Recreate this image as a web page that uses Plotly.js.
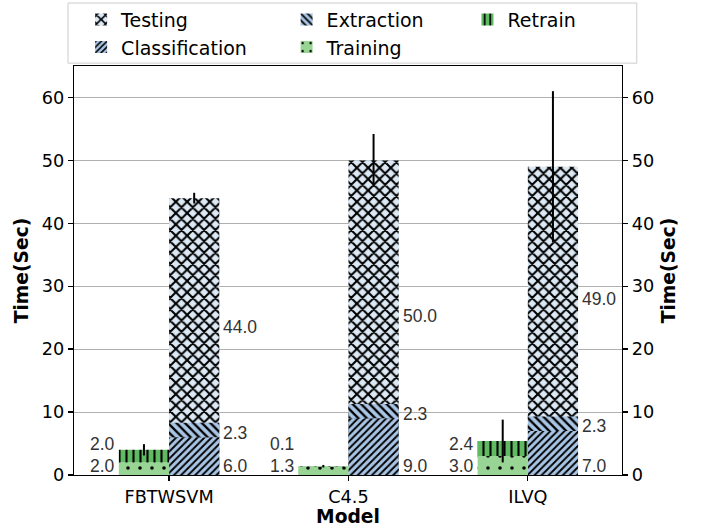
<!DOCTYPE html>
<html>
<head>
<meta charset="utf-8">
<script src="https://cdn.plot.ly/plotly-3.0.1.min.js"></script>
<style>html,body{margin:0;padding:0;background:#fff;}#chart{width:702px;height:527px;}</style>
</head>
<body>
<div id="chart"></div>
<script>
// ---- data ----
const models = ['FBTWSVM', 'C4.5', 'ILVQ'];
const training = [2.0, 1.3, 3.0];
const retrain = [2.0, 0.1, 2.4];
const retrainErr = [0.9, 0.2, 3.4];
const classification = [6.0, 9.0, 7.0];
const extraction = [2.3, 2.3, 2.3];
const testing = [44.0, 50.0, 49.0];
const testingErr = [0.85, 4.2, 12.0];
const yTicks = [0, 10, 20, 30, 40, 50, 60];

// ---- layout constants ----
const W = 0.28;
const FONT = 'DejaVu Sans, sans-serif';
const LBL_FONT = {family: 'Liberation Sans, Arial, sans-serif', size: 17.5, color: '#333333'};
const testLabelShift = [1.6, 0.3, 3.4];

const extBase = classification.slice();
const retBase = training.slice();

function pat(shape, bg, size, sol) {
  return {shape: shape, bgcolor: bg, fgcolor: '#000000', fgopacity: 1, size: size, solidity: sol, fillmode: 'overlay'};
}
const errStyle = {type: 'data', visible: true, color: '#000000', thickness: 2, width: 0};

const traces = [
  {type: 'bar', name: 'Testing', x: models, y: testing, base: [0,0,0], offset: 0, width: W, opacity: 1,
   marker: {color: '#dce9f5', opacity: 1, line: {width: 0}, pattern: pat('x', '#dce9f5', 8, 0.45)},
   error_y: Object.assign({array: testingErr}, errStyle), legend: 'legend', legendrank: 1},
  {type: 'bar', name: 'Classification', x: models, y: classification, base: [0,0,0], offset: 0, width: W, opacity: 1,
   marker: {color: '#a9c5e5', opacity: 1, line: {width: 0}, pattern: pat('/', '#a9c5e5', 5, 0.38)},
   legend: 'legend', legendrank: 2},
  {type: 'bar', name: 'Extraction', x: models, y: extraction, base: extBase, offset: 0, width: W, opacity: 1,
   marker: {color: '#a9c5e5', opacity: 1, line: {width: 0}, pattern: pat('\\', '#a9c5e5', 6, 0.38)},
   legend: 'legend2', legendrank: 1},
  {type: 'bar', name: 'Training', x: models, y: training, base: [0,0,0], offset: -W, width: W, opacity: 1,
   marker: {color: '#98d594', opacity: 1, line: {width: 0}, pattern: pat('.', '#98d594', 12, 0.07)},
   legend: 'legend2', legendrank: 2},
  {type: 'bar', name: 'Retrain', x: models, y: retrain, base: retBase, offset: -W, width: W, opacity: 1,
   marker: {color: '#5fba62', opacity: 1, line: {width: 0}, pattern: pat('|', '#5fba62', 7, 0.3)},
   error_y: Object.assign({array: retrainErr}, errStyle), legend: 'legend3', legendrank: 1},
  {type: 'scatter', x: [], y: [], yaxis: 'y2', showlegend: false, hoverinfo: 'skip'}
];

const annotations = [];
function lbl(x, y, v, side) {
  annotations.push({x: x, y: y, xref: 'x', yref: 'y', text: v.toFixed(1), showarrow: false,
    xanchor: side, yanchor: 'middle', xshift: side === 'right' ? -2 : 2, font: LBL_FONT});
}
models.forEach(function (m, i) {
  lbl(i - W, 1.5, training[i], 'right');
  lbl(i - W, 4.9, retrain[i], 'right');
  lbl(i + W, 1.5, classification[i], 'left');
  lbl(i + W, classification[i] + extraction[i] / 2 - 0.4, extraction[i], 'left');
  lbl(i + W, testing[i] / 2 + testLabelShift[i], testing[i], 'left');
});

const legBase = {bgcolor: 'rgba(0,0,0,0)', borderwidth: 0, font: {family: FONT, size: 19, color: '#000'},
  yanchor: 'top', xanchor: 'left', y: 1.16, orientation: 'v', tracegroupgap: 0};

const axisFont = {family: FONT, size: 17.7, color: '#000'};
const titleFont = {family: FONT, size: 18.7, color: '#000'};
const layout = {
  width: 702, height: 527,
  margin: {l: 74, r: 80, t: 66, b: 52, autoexpand: false},
  paper_bgcolor: '#ffffff', plot_bgcolor: '#ffffff',
  font: {family: FONT, size: 16, color: '#000'},
  barmode: 'overlay',
  showlegend: true,
  legend: Object.assign({}, legBase, {x: 0.013}),
  legend2: Object.assign({}, legBase, {x: 0.388}),
  legend3: Object.assign({}, legBase, {x: 0.718}),
  xaxis: {type: 'category', range: [-0.53, 2.525], showline: true, mirror: true, linecolor: '#000', linewidth: 1.3,
    ticks: 'outside', ticklen: 5, tickwidth: 1.3, tickcolor: '#000', tickfont: axisFont, showgrid: false, zeroline: false,
    title: {text: '<b>Model</b>', font: titleFont, standoff: 4}},
  yaxis: {range: [0, 65], tickvals: yTicks, showgrid: true, gridcolor: '#b0b0b0', gridwidth: 1,
    showline: true, linecolor: '#000', linewidth: 1.3, ticks: 'outside', ticklen: 5, tickwidth: 1.3, tickcolor: '#000',
    tickfont: axisFont, zeroline: false, title: {text: '<b>Time(Sec)</b>', font: titleFont, standoff: 8}},
  yaxis2: {overlaying: 'y', side: 'right', range: [0, 65], tickvals: yTicks, showgrid: false,
    showline: true, linecolor: '#000', linewidth: 1.3, ticks: 'outside', ticklen: 5, tickwidth: 1.3, tickcolor: '#000',
    tickfont: axisFont, zeroline: false, title: {text: '<b>Time(Sec)</b>', font: titleFont, standoff: 8}},
  shapes: [{type: 'rect', xref: 'paper', yref: 'paper', x0: -0.011, x1: 1.027, y0: 1.007, y1: 1.154,
    line: {color: '#cccccc', width: 1}, fillcolor: '#ffffff', layer: 'below'}],
  annotations: annotations
};

Plotly.newPlot('chart', traces, layout, {displayModeBar: false, staticPlot: true});
</script>
</body>
</html>
